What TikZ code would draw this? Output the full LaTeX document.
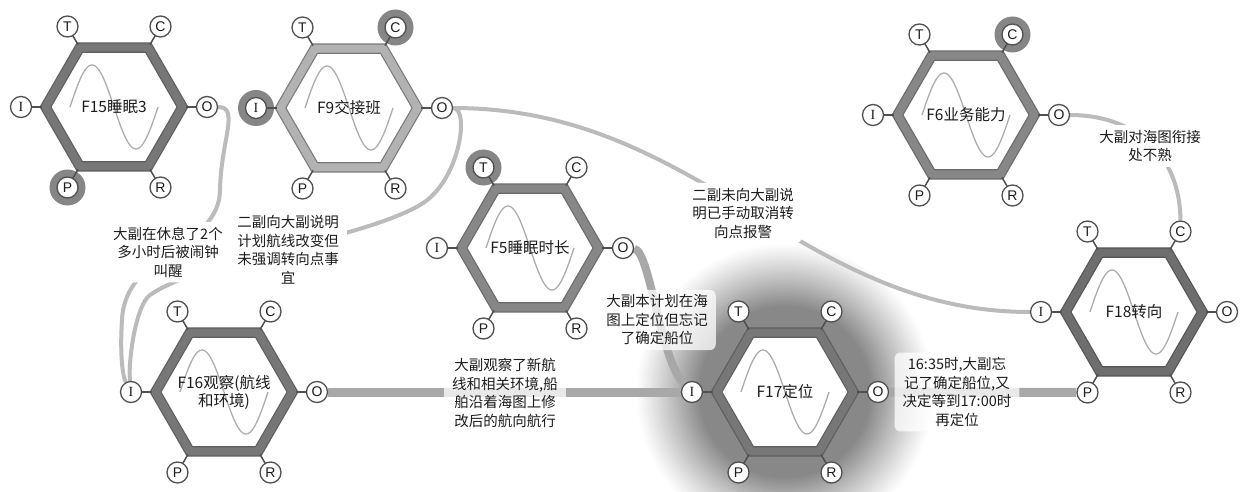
\documentclass[tikz,border=0pt]{standalone}
\usepackage{fontspec}
\setmainfont{Noto Sans CJK SC}
\newfontfamily\portsans{Liberation Sans}
\newfontfamily\portserif{Liberation Serif}
\definecolor{txt}{HTML}{1C1C1C}
\definecolor{portdraw}{HTML}{505050}
\definecolor{ringc}{HTML}{868686}
\definecolor{conn}{HTML}{BBBBBB}
\definecolor{band}{HTML}{A8A8A8}
\definecolor{wave}{HTML}{ADADAD}
\definecolor{glowc}{HTML}{888888}
\definecolor{hexA}{HTML}{777777}
\definecolor{hexAo}{HTML}{5E5E5E}
\definecolor{hexB}{HTML}{B2B2B2}
\definecolor{hexBo}{HTML}{7A7A7A}
\definecolor{hexC}{HTML}{878787}
\definecolor{hexCo}{HTML}{6A6A6A}
\definecolor{hexD}{HTML}{6E6E6E}
\definecolor{hexDo}{HTML}{555555}
\pgfdeclarelayer{glowlayer}
\pgfdeclarelayer{connlayer}
\pgfdeclarelayer{ringlayer}
\pgfsetlayers{glowlayer,connlayer,ringlayer,main}
\tikzset{
  port/.style={circle, draw=portdraw, line width=1.3pt, fill=white, minimum size=21pt, inner sep=0pt, font=\portsans\fontsize{14}{14}\selectfont, text=txt},
  stub/.style={draw=portdraw, line width=1.5pt},
  wavestyle/.style={draw=wave, line width=1.3pt},
  fntext/.style={align=center, font=\fontsize{15.5}{18}\selectfont, text=txt, inner sep=1pt},
  thinconn/.style={draw=conn, line width=4pt},
  thickconn/.style={draw=band, line width=9pt},
  lab/.style={align=center, font=\fontsize{14.5}{18.5}\selectfont, text=txt, inner xsep=8pt, inner ysep=5pt, rounded corners=6pt, fill=white},
  glasslab/.style={lab, fill opacity=0.75, text opacity=1},
}
\newcommand\framfn[6]{%
\begin{scope}[shift={(#2,#3)}]
\filldraw[fill=white,draw=#5,double=#4,line width=1.2pt,double distance=8pt,line join=miter] (68.5,0) -- (34.25,-59.33) -- (-34.25,-59.33) -- (-68.5,0) -- (-34.25,59.33) -- (34.25,59.33) -- cycle;
\draw[wavestyle] plot[domain=-44:44,samples=61,smooth] (\x,{-42*sin(4.0909*(\x+44))});
\node[fntext] (#1) at (0,0) {#6};
\draw[stub] (-72,0) -- (-93,0);
\draw[stub] (72,0) -- (93,0);
\draw[stub] (-36,-62.4) -- (-46.5,-80.5);
\draw[stub] (36,-62.4) -- (46.5,-80.5);
\draw[stub] (-36,62.4) -- (-46.5,80.5);
\draw[stub] (36,62.4) -- (46.5,80.5);
\node[port] (#1-I) at (-93,0) {\portserif I};
\node[port] (#1-O) at (93,0) {O};
\node[port] (#1-T) at (-46.5,-80.5) {T};
\node[port] (#1-C) at (46.5,-80.5) {C};
\node[port] (#1-P) at (-46.5,80.5) {P};
\node[port] (#1-R) at (46.5,80.5) {R};
\end{scope}}
\begin{document}
\begin{tikzpicture}[x=1pt,y=-1pt]
\useasboundingbox (0,0) rectangle (1242,492);
\begin{pgfonlayer}{glowlayer}
\fill[white] (0,0) rectangle (1242,492);
\end{pgfonlayer}

\framfn{F15}{114}{107}{hexA}{hexAo}{F15睡眠3}
\framfn{F9}{349}{108}{hexB}{hexBo}{F9交接班}
\framfn{F6}{966}{115}{hexC}{hexCo}{F6业务能力}
\framfn{F5}{530}{248}{hexC}{hexCo}{F5睡眠时长}
\framfn{F16}{224}{392}{hexA}{hexAo}{F16观察(航线\\和环境)}
\framfn{F17}{785}{392}{hexA}{hexAo}{F17定位}
\framfn{F18}{1134}{312}{hexD}{hexDo}{F18转向}

\begin{pgfonlayer}{glowlayer}
\foreach \i in {0,...,32} {
  \pgfmathsetmacro\rr{150-2*\i}
  \pgfmathsetmacro\pc{100*(\i/32)^1.1}
  \fill[glowc!\pc!white] (F17) circle (\rr pt);
}
\end{pgfonlayer}

\begin{pgfonlayer}{ringlayer}
\fill[ringc] (F15-P) circle (18pt);
\fill[ringc] (F9-C) circle (18pt);
\fill[ringc] (F9-I) circle (18pt);
\fill[ringc] (F6-C) circle (18pt);
\fill[ringc] (F5-T) circle (18pt);
\end{pgfonlayer}

\begin{pgfonlayer}{connlayer}
\draw[thinconn] (F15-O) .. controls (240,107) and (221,140) .. (220,190) .. controls (219,250) and (125,250) .. (122,320) .. controls (120,350) and (122,375) .. (F16-I);
\draw[thinconn] (F9-O) .. controls (470,108) and (460,182) .. (420,205) .. controls (360,240) and (200,260) .. (150,295) .. controls (136,305) and (128,360) .. (F16-I);
\draw[thinconn] (F9-O) .. controls (700,108) and (800,312) .. (F18-I);
\draw[thinconn] (F6-O) .. controls (1130,115) and (1180,150) .. (F18-C);
\draw[thickconn, line width=8pt] (F5-O) .. controls (650,250) and (660,360) .. (F17-I);
\draw[thickconn] (F16-O) -- (F17-I);
\draw[thickconn] (F17-O) -- (F18-P);
\end{pgfonlayer}

\node[lab] (L1) at (168,252) {大副在休息了2个\\多小时后被闹钟\\叫醒};
\node[lab] (L2) at (288,250) {二副向大副说明\\计划航线改变但\\未强调转向点事\\宜};
\node[lab] (L3) at (743,213) {二副未向大副说\\明已手动取消转\\向点报警};
\node[lab] (L4) at (1150,146) {大副对海图衔接\\处不熟};
\node[glasslab] (L5) at (657,320) {大副本计划在海\\图上定位但忘记\\了确定船位};
\node[glasslab] (L6) at (505,393) {大副观察了新航\\线和相关环境,船\\舶沿着海图上修\\改后的航向航行};
\node[glasslab] (L7) at (957,392) {16:35时,大副忘\\记了确定船位,又\\决定等到17:00时\\再定位};
\end{tikzpicture}
\end{document}
